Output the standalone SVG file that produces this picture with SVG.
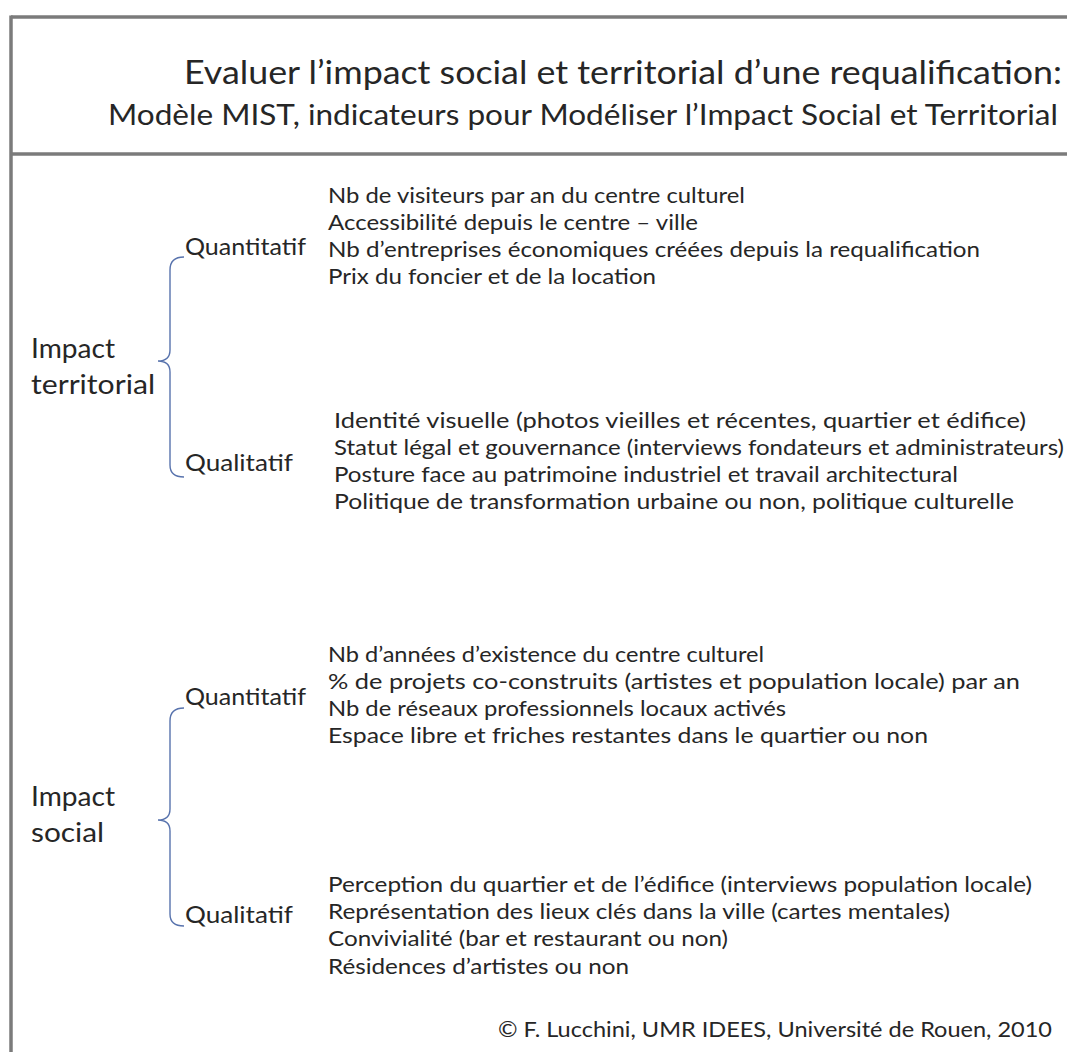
<svg xmlns="http://www.w3.org/2000/svg" width="1067" height="1052" viewBox="0 0 1067 1052">
<style>
.t{font-family:Lato,"Liberation Sans",sans-serif;fill:#262626}
.h1{font-size:32px}
.h2{font-size:29px}
.lab{font-size:27px}
.sub{font-size:23px}
.it{font-size:21px}
.ft{font-size:21px}
.brace{fill:none;stroke:#5873ad;stroke-width:1.4}
.frame{stroke:#7b7b7b;stroke-width:3.5;fill:none}
</style>
<rect width="1067" height="1052" fill="#ffffff"/>
<g id="frame">
<line class="frame" x1="11" y1="17" x2="1067" y2="17"/>
<line class="frame" x1="11" y1="15.5" x2="11" y2="1052"/>
<line class="frame" x1="11" y1="154" x2="1067" y2="154"/>
</g>
<g id="title">
<text class="t h1" x="184" y="84" textLength="878" lengthAdjust="spacingAndGlyphs">Evaluer l’impact social et territorial d’une requalification:</text>
<text class="t h2" x="108" y="125" textLength="950" lengthAdjust="spacingAndGlyphs">Modèle MIST, indicateurs pour Modéliser l’Impact Social et Territorial</text>
</g>
<g id="connectors">
<path class="brace" d="M184,257 Q170,257 170,270 L170,350 Q170,361 158,361 Q170,361 170,372 L170,465 Q170,477 184,477"/>
<path class="brace" d="M184,708 Q170,708 170,721 L170,809 Q170,820 158,820 Q170,820 170,831 L170,914 Q170,926 184,926"/>
</g>
<g id="impact-territorial">
<text class="t lab" x="31" y="358" textLength="84" lengthAdjust="spacingAndGlyphs">Impact</text>
<text class="t lab" x="31" y="394" textLength="124" lengthAdjust="spacingAndGlyphs">territorial</text>
</g>
<g id="territorial-quantitatif">
<text class="t sub" x="185" y="255" textLength="121" lengthAdjust="spacingAndGlyphs">Quantitatif</text>
<text class="t it" x="328" y="203" textLength="417" lengthAdjust="spacingAndGlyphs">Nb de visiteurs par an du centre culturel</text>
<text class="t it" x="328" y="230" textLength="370" lengthAdjust="spacingAndGlyphs">Accessibilité depuis le centre – ville</text>
<text class="t it" x="328" y="257" textLength="652" lengthAdjust="spacingAndGlyphs">Nb d’entreprises économiques créées depuis la requalification</text>
<text class="t it" x="328" y="284" textLength="328" lengthAdjust="spacingAndGlyphs">Prix du foncier et de la location</text>
</g>
<g id="territorial-qualitatif">
<text class="t sub" x="185" y="471" textLength="108" lengthAdjust="spacingAndGlyphs">Qualitatif</text>
<text class="t it" x="334" y="428" textLength="692" lengthAdjust="spacingAndGlyphs">Identité visuelle (photos vieilles et récentes, quartier et édifice)</text>
<text class="t it" x="334" y="455" textLength="730" lengthAdjust="spacingAndGlyphs">Statut légal et gouvernance (interviews fondateurs et administrateurs)</text>
<text class="t it" x="334" y="482" textLength="624" lengthAdjust="spacingAndGlyphs">Posture face au patrimoine industriel et travail architectural</text>
<text class="t it" x="334" y="509" textLength="680" lengthAdjust="spacingAndGlyphs">Politique de transformation urbaine ou non, politique culturelle</text>
</g>
<g id="impact-social">
<text class="t lab" x="31" y="806" textLength="84" lengthAdjust="spacingAndGlyphs">Impact</text>
<text class="t lab" x="31" y="842" textLength="73" lengthAdjust="spacingAndGlyphs">social</text>
</g>
<g id="social-quantitatif">
<text class="t sub" x="185" y="705" textLength="121" lengthAdjust="spacingAndGlyphs">Quantitatif</text>
<text class="t it" x="328" y="662" textLength="436" lengthAdjust="spacingAndGlyphs">Nb d’années d’existence du centre culturel</text>
<text class="t it" x="328" y="689" textLength="692" lengthAdjust="spacingAndGlyphs">% de projets co-construits (artistes et population locale) par an</text>
<text class="t it" x="328" y="716" textLength="458" lengthAdjust="spacingAndGlyphs">Nb de réseaux professionnels locaux activés</text>
<text class="t it" x="328" y="743" textLength="600" lengthAdjust="spacingAndGlyphs">Espace libre et friches restantes dans le quartier ou non</text>
</g>
<g id="social-qualitatif">
<text class="t sub" x="185" y="923" textLength="108" lengthAdjust="spacingAndGlyphs">Qualitatif</text>
<text class="t it" x="328" y="892" textLength="704" lengthAdjust="spacingAndGlyphs">Perception du quartier et de l’édifice (interviews population locale)</text>
<text class="t it" x="328" y="919" textLength="622" lengthAdjust="spacingAndGlyphs">Représentation des lieux clés dans la ville (cartes mentales)</text>
<text class="t it" x="328" y="946" textLength="400" lengthAdjust="spacingAndGlyphs">Convivialité (bar et restaurant ou non)</text>
<text class="t it" x="328" y="974" textLength="301" lengthAdjust="spacingAndGlyphs">Résidences d’artistes ou non</text>
</g>
<g id="footer">
<text class="t ft" x="498" y="1037" textLength="554" lengthAdjust="spacingAndGlyphs">© F. Lucchini, UMR IDEES,  Université de Rouen, 2010</text>
</g>
</svg>
